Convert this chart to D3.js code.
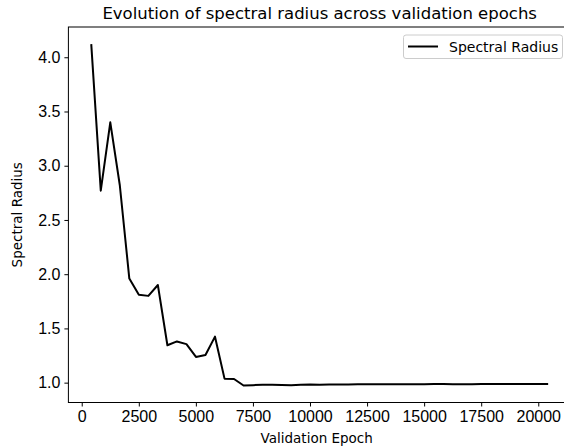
<!DOCTYPE html>
<html>
<head>
<meta charset="utf-8">
<script src="https://cdn.jsdelivr.net/npm/d3@7"></script>
<style>
  body { margin: 0; background: #fff; }
  svg { display: block; overflow: hidden; font-family: "DejaVu Sans", sans-serif; }
  .title { font-size: 16.5px; }
  .axis-label { font-size: 13.5px; }
  .tick text { font-size: 16px; fill: #000; }
  .tick line { stroke: #000; }
</style>
</head>
<body>
<script>
var width = 564, height = 448;

// validation epochs and measured spectral radius
var epochs = [417, 834, 1251, 1668, 2085, 2502, 2919, 3336, 3753, 4170,
              4587, 5004, 5421, 5838, 6255, 6672, 7089, 7506, 7923, 8340,
              8757, 9174, 9591, 10008, 10425, 10842, 11259, 11676, 12093, 12510,
              12927, 13344, 13761, 14178, 14595, 15012, 15429, 15846, 16263, 16680,
              17097, 17514, 17931, 18348, 18765, 19182, 19599, 20016, 20433];
var radius = [4.121, 2.77, 3.40, 2.82, 1.96, 1.81, 1.80, 1.90, 1.345, 1.38,
              1.355, 1.237, 1.255, 1.424, 1.037, 1.034, 0.974, 0.977, 0.980, 0.980,
              0.979, 0.977, 0.981, 0.982, 0.981, 0.983, 0.984, 0.984, 0.985, 0.985,
              0.986, 0.986, 0.986, 0.985, 0.986, 0.986, 0.987, 0.987, 0.986, 0.986,
              0.986, 0.987, 0.987, 0.987, 0.988, 0.987, 0.988, 0.987, 0.988];
var xTicks = [0, 2500, 5000, 7500, 10000, 12500, 15000, 17500, 20000];
var yTicks = [1.0, 1.5, 2.0, 2.5, 3.0, 3.5, 4.0];
var seriesName = "Spectral Radius";

var mLeft = 68.4, mRight = 571, mTop = 27, mBottom = 402.5;

var x = d3.scaleLinear().domain([-584, 21434]).range([mLeft, mRight]);
var y = d3.scaleLinear().domain([0.817, 4.279]).range([mBottom, mTop]);

var svg = d3.select("body").append("svg")
    .attr("width", width)
    .attr("height", height);

svg.append("text")
   .attr("class", "title")
   .attr("x", (mLeft + mRight) / 2)
   .attr("y", 19)
   .attr("text-anchor", "middle")
   .text("Evolution of spectral radius across validation epochs");

// axes
var xAxis = svg.append("g")
    .attr("transform", "translate(0," + mBottom + ")")
    .call(d3.axisBottom(x).tickValues(xTicks).tickFormat(d3.format("d"))
            .tickSize(4).tickPadding(4).tickSizeOuter(0));
xAxis.select(".domain").remove();

var yAxis = svg.append("g")
    .attr("transform", "translate(" + mLeft + ",0)")
    .call(d3.axisLeft(y).tickValues(yTicks).tickFormat(d3.format(".1f"))
            .tickSize(4).tickPadding(4).tickSizeOuter(0));
yAxis.select(".domain").remove();

// data line
var line = d3.line()
    .x(function(d, i) { return x(epochs[i]); })
    .y(function(d) { return y(d); });

svg.append("path")
   .datum(radius)
   .attr("d", line)
   .attr("fill", "none")
   .attr("stroke", "#000")
   .attr("stroke-width", 2)
   .attr("stroke-linejoin", "round");

// frame
svg.append("rect")
   .attr("x", mLeft)
   .attr("y", mTop)
   .attr("width", mRight - mLeft)
   .attr("height", mBottom - mTop)
   .attr("fill", "none")
   .attr("stroke", "#000")
   .attr("stroke-width", 1);

svg.append("text")
   .attr("class", "axis-label")
   .attr("x", (mLeft + mRight) / 2 - 3)
   .attr("y", 443)
   .attr("text-anchor", "middle")
   .text("Validation Epoch");

svg.append("text")
   .attr("class", "axis-label")
   .attr("transform", "translate(22," + ((mTop + mBottom) / 2) + ") rotate(-90)")
   .attr("text-anchor", "middle")
   .text(seriesName);

// legend
var legend = svg.append("g");
legend.append("rect")
   .attr("x", 403.5).attr("y", 35)
   .attr("width", 159).attr("height", 23.5)
   .attr("rx", 2.5)
   .attr("fill", "#fff")
   .attr("fill-opacity", 0.8)
   .attr("stroke", "#ccc");
legend.append("line")
   .attr("x1", 408).attr("x2", 438)
   .attr("y1", 46.5).attr("y2", 46.5)
   .attr("stroke", "#000").attr("stroke-width", 2);
legend.append("text")
   .attr("x", 449).attr("y", 51.5)
   .style("font-size", "14px")
   .text(seriesName);
</script>
</body>
</html>
